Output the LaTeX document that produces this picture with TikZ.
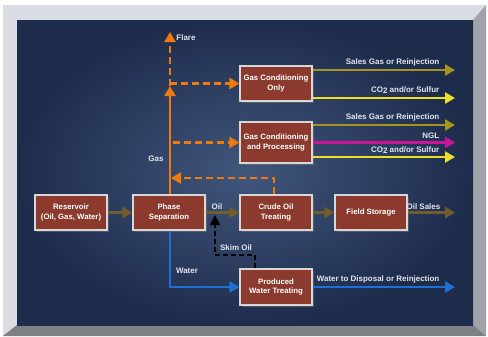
\documentclass[tikz,border=0pt]{standalone}
\usepackage{fontspec}
\setmainfont{Liberation Sans}
\usetikzlibrary{arrows.meta,shadows,calc}
\definecolor{panelout}{RGB}{30,44,76}
\definecolor{panelin}{RGB}{64,86,124}
\definecolor{framelight}{RGB}{218,222,228}
\definecolor{framedark}{RGB}{160,164,170}
\definecolor{framebottom}{RGB}{125,129,134}
\definecolor{boxfill}{RGB}{140,58,46}
\definecolor{boxline}{RGB}{215,215,215}
\definecolor{brownln}{RGB}{112,92,44}
\definecolor{oliveln}{RGB}{165,148,30}
\definecolor{yellowln}{RGB}{238,222,40}
\definecolor{magentaln}{RGB}{205,20,150}
\definecolor{orangeln}{RGB}{242,122,12}
\definecolor{blueln}{RGB}{30,112,212}
\definecolor{labeltxt}{RGB}{226,230,236}
\tikzset{
  box/.style={draw=boxline, line width=1.1bp, fill=boxfill, text=white,
    align=center, font=\fontsize{7.8}{9.6}\selectfont\bfseries,
    minimum width=72bp, inner sep=1bp,
    drop shadow={shadow xshift=1.5bp, shadow yshift=-1.5bp, opacity=0.45}},
  lbl/.style={text=labeltxt, font=\fontsize{8}{10}\selectfont\bfseries, inner sep=0.5bp},
  tip/.style={-{Triangle[length=10bp,width=11bp]}},
  brownarrow/.style={tip, draw=brownln, line width=3bp},
  olivearrow/.style={tip, draw=oliveln, line width=2.6bp},
  yellowarrow/.style={tip, draw=yellowln, line width=2.6bp},
  magentaarrow/.style={tip, draw=magentaln, line width=2.6bp},
  bluearrow/.style={tip, draw=blueln, line width=2.4bp},
  orangesolid/.style={tip, draw=orangeln, line width=2.6bp},
  orangedash/.style={tip, draw=orangeln, line width=2.4bp, dash pattern=on 7bp off 4bp},
  skimdash/.style={-{Triangle[length=10bp,width=10bp]}, draw=black, line width=2bp, dash pattern=on 5bp off 3bp},
}
\begin{document}
\begin{tikzpicture}[x=1bp,y=-1bp]
\useasboundingbox (0,0) rectangle (488,336);
\fill[white] (0,0) rectangle (488,336);
% frame
\fill[framelight] (3,5) rectangle (486,336);
\fill[framedark] (486,5) -- (486,336) -- (473,325) -- (473,20) -- cycle;
\fill[framebottom] (3,336) -- (486,336) -- (473,325) -- (17,325) -- cycle;
\shade[inner color=panelin, outer color=panelout] (17,20) rectangle (473,325);
% boxes
\node[box, minimum height=35bp] (res) at (71,212.5) {Reservoir\\(Oil, Gas, Water)};
\node[box, minimum height=35bp] (sep) at (169,212.5) {Phase\\Separation};
\node[box, minimum height=35bp] (crude) at (276,212.5) {Crude Oil\\Treating};
\node[box, minimum height=35bp] (field) at (371,212.5) {Field Storage};
\node[box, minimum height=35bp] (gco) at (276,83.5) {Gas Conditioning\\Only};
\node[box, minimum height=41bp] (gcp) at (276,142.5) {Gas Conditioning\\and Processing};
\node[box, minimum height=36bp] (pw) at (276,287) {Produced\\Water Treating};
% coordinates
\coordinate (gastip) at (170,86);
\coordinate (flare) at (170,32);
\coordinate (gasbranch) at (170,83.5);
\coordinate (gcpstart) at (173,142.5);
\coordinate (crudeup) at ($(crude.north)+(-2,0)$);
\coordinate (returnend) at (171,178);
\coordinate (oilend) at (455,212.5);
\coordinate (sk1) at (215,255);
\coordinate (sk2) at (215,215);
\coordinate (skstart) at ($(pw.north)+(-21,0)$);
\coordinate (wend) at (455,287);
\coordinate (o1) at (455,70);
\coordinate (o2) at (455,98);
\coordinate (o3) at (455,125);
\coordinate (o4) at (455,142.5);
\coordinate (o5) at (455,157);
% main flow
\draw[brownarrow] (res.east) -- (sep.west);
\draw[brownarrow] (sep.east) -- (crude.west);
\draw[brownarrow] (crude.east) -- (field.west);
\draw[brownarrow] (field.east) -- (oilend);
% gas
\draw[orangesolid] (sep.north -| gastip) -- (gastip);
\draw[orangedash] (gastip) -- (flare);
\draw[orangedash] (gasbranch) -- (gco.west);
\draw[orangedash] (gcpstart) -- (gcp.west);
\draw[orangedash] (crudeup) |- (returnend);
% water
\draw[bluearrow] (sep.south -| gastip) |- (pw.west);
\draw[bluearrow] (pw.east) -- (wend);
% skim
\draw[skimdash] (skstart) |- (sk1) -- (sk2);
% gas outputs
\draw[olivearrow] (gco.east |- o1) -- (o1);
\draw[yellowarrow] (gco.east |- o2) -- (o2);
\draw[olivearrow] (gcp.east |- o3) -- (o3);
\draw[magentaarrow] (gcp.east |- o4) -- (o4);
\draw[yellowarrow] (gcp.east |- o5) -- (o5);
% labels
\node[lbl] (lflare) at (186,38) {Flare};
\node[lbl] (lgas) at (156,159) {Gas};
\node[lbl] (loil) at (217,206.5) {Oil};
\node[lbl] (lwater) at (187,271) {Water};
\node[lbl] (lskim) at (236,248) {Skim Oil};
\node[lbl, anchor=south east] (lsales) at (441,210) {Oil Sales};
\node[lbl, anchor=south east] (l1) at (440,66.5) {Sales Gas or Reinjection};
\node[lbl, anchor=south east] (l2) at (440,94.5) {CO\raisebox{-1.2bp}{2} and/or Sulfur};
\node[lbl, anchor=south east] (l3) at (440,121.5) {Sales Gas or Reinjection};
\node[lbl, anchor=south east] (l4) at (440,139) {NGL};
\node[lbl, anchor=south east] (l5) at (440,154) {CO\raisebox{-1.2bp}{2} and/or Sulfur};
\node[lbl, anchor=south east] (l6) at (440,283.5) {Water to Disposal or Reinjection};
\end{tikzpicture}
\end{document}
